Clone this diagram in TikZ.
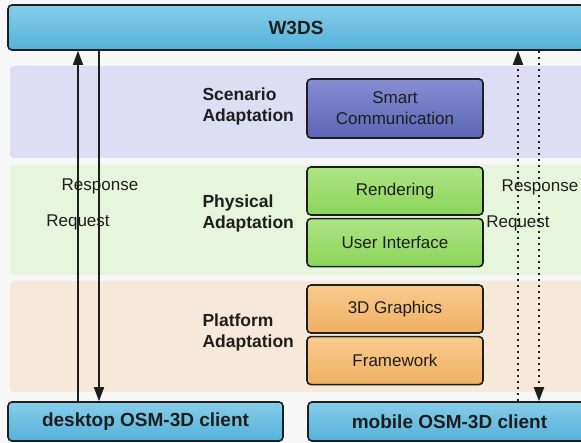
\documentclass[tikz,border=0pt]{standalone}
\usepackage{fontspec}
\setmainfont{Liberation Sans}
\usetikzlibrary{arrows.meta,positioning}

\definecolor{inkdark}{HTML}{1E1E1E}
\definecolor{pagegray}{HTML}{F7F7F7}
\definecolor{skytop}{HTML}{86CDE9}
\definecolor{skybot}{HTML}{55B2DA}
\definecolor{bandblue}{HTML}{DDDDF3}
\definecolor{bluetop}{HTML}{858DD2}
\definecolor{bluebot}{HTML}{5C66B6}
\definecolor{bandgreen}{HTML}{E6F5DB}
\definecolor{greentop}{HTML}{AEE585}
\definecolor{greenbot}{HTML}{8BD459}
\definecolor{bandorange}{HTML}{F6E9DA}
\definecolor{orangetop}{HTML}{F8CB8E}
\definecolor{orangebot}{HTML}{EFB062}

\tikzset{
	band/.style={rounded corners=4pt},
	endbox/.style={draw=inkdark, line width=1.6pt, rounded corners=4pt,
		top color=skytop, bottom color=skybot, text=inkdark,
		font=\fontsize{19}{22}\selectfont\bfseries},
	layerbox/.style={draw=inkdark, line width=1.6pt, rounded corners=4pt,
		minimum width=176pt, minimum height=48pt, align=center, text=inkdark,
		font=\fontsize{17}{21}\selectfont},
	grouplabel/.style={anchor=west, align=left, text=inkdark,
		font=\fontsize{17.5}{21}\selectfont\bfseries},
	msg/.style={text=inkdark, inner sep=0pt, font=\fontsize{17}{21}\selectfont},
	flow/.style={line width=1.7pt, draw=inkdark,
		-{Triangle[length=14pt,width=10pt]}},
	dotflow/.style={flow, line width=2pt, dash pattern=on 1.8pt off 4.2pt}
}

\begin{document}
\begin{tikzpicture}[x=1pt,y=-1pt]
	\useasboundingbox (0,0) rectangle (581,443);
	\clip (0,0) rectangle (581,443);
	\fill[pagegray] (0,0) rectangle (581,443);
	
	% background bands
	\fill[band, fill=bandblue] (10,66) rectangle (600,158);
	\fill[band, fill=bandgreen] (10,165) rectangle (600,275);
	\fill[band, fill=bandorange] (10,281) rectangle (600,392);
	
	% server and clients
	\node[endbox, minimum width=576pt, minimum height=45pt] (w3ds) at (296,27.5) {W3DS};
	\node[endbox, minimum width=275pt, minimum height=39pt] (desktop) at (145.5,421.5) {desktop OSM-3D client};
	\node[endbox, minimum width=283pt, minimum height=39pt] (mobile) at (449.5,421.5) {mobile OSM-3D client};
	
	% adaptation layers
	\node[grouplabel] (scenario) at (199,106.5) {Scenario\\Adaptation};
	\node[grouplabel] (physical) at (199,213.5) {Physical\\Adaptation};
	\node[grouplabel] (platform) at (199,332) {Platform\\Adaptation};
	
	\node[layerbox, minimum height=59pt, top color=bluetop, bottom color=bluebot] (smart) at (395,108.5) {Smart\\Communication};
	
	\node[layerbox, top color=greentop, bottom color=greenbot] (render) at (395,191) {Rendering};
	\node[layerbox, top color=greentop, bottom color=greenbot, below=2pt of render] (ui) {User Interface};
	
	\node[layerbox, top color=orangetop, bottom color=orangebot] (graphics) at (395,309) {3D Graphics};
	\node[layerbox, top color=orangetop, bottom color=orangebot, below=2pt of graphics] (frame) {Framework};
	
	% request / response lines
	\coordinate (reqL) at (78,0);
	\coordinate (resL) at (99,0);
	\coordinate (reqR) at (518,0);
	\coordinate (resR) at (539,0);
	
	\draw[flow] (desktop.north -| reqL) -- (w3ds.south -| reqL);
	\draw[flow] (w3ds.south -| resL) -- (desktop.north -| resL);
	\draw[dotflow] (mobile.north -| reqR) -- (w3ds.south -| reqR);
	\draw[dotflow] (w3ds.south -| resR) -- (mobile.north -| resR);
	
	\node[msg] (respL) at (100,186) {Response};
	\node[msg] (reqtL) at (78,222) {Request};
	\node[msg] (respR) at (540,187) {Response};
	\node[msg] (reqtR) at (518,223) {Request};
\end{tikzpicture}
\end{document}
